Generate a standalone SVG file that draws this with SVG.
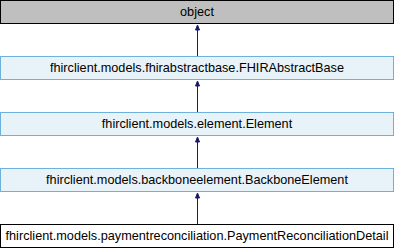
<svg xmlns="http://www.w3.org/2000/svg" width="394" height="248" viewBox="0 0 394 248">
  <style>
    .node text { font-family: "Liberation Sans", Arial, sans-serif; font-size: 12.7px; text-anchor: middle; fill: #000; }
    .root rect { fill: #bfbfbf; stroke: #000; stroke-width: 1; }
    .base rect { fill: #e8f2f9; stroke: #6cb2dc; stroke-width: 1; }
    .leaf rect { fill: #fff; stroke: #000; stroke-width: 1; }
    .edges line { stroke: #191970; stroke-width: 1; }
    .edges polygon { fill: #191970; stroke: #191970; stroke-width: 1; }
  </style>

  <g id="object" class="node root">
    <rect x="0.5" y="0.5" width="393" height="23"/>
    <text x="197" y="16">object</text>
  </g>
  <g id="fhirabstractbase" class="node base">
    <rect x="0.5" y="56.5" width="393" height="23"/>
    <text x="197" y="72">fhirclient.models.fhirabstractbase.FHIRAbstractBase</text>
  </g>
  <g id="element" class="node base">
    <rect x="0.5" y="112.5" width="393" height="23"/>
    <text x="197" y="128">fhirclient.models.element.Element</text>
  </g>
  <g id="backboneelement" class="node base">
    <rect x="0.5" y="168.5" width="393" height="23"/>
    <text x="197" y="184">fhirclient.models.backboneelement.BackboneElement</text>
  </g>
  <g id="paymentreconciliationdetail" class="node leaf">
    <rect x="0.5" y="224.5" width="393" height="23"/>
    <text x="197" y="240">fhirclient.models.paymentreconciliation.PaymentReconciliationDetail</text>
  </g>

  <g class="edges">
    <line x1="197.5" y1="30" x2="197.5" y2="56"/>
    <polygon points="197.5,25 195.5,30 199.5,30"/>
    <line x1="197.5" y1="86" x2="197.5" y2="112"/>
    <polygon points="197.5,81 195.5,86 199.5,86"/>
    <line x1="197.5" y1="142" x2="197.5" y2="168"/>
    <polygon points="197.5,137 195.5,142 199.5,142"/>
    <line x1="197.5" y1="198" x2="197.5" y2="224"/>
    <polygon points="197.5,193 195.5,198 199.5,198"/>
  </g>
</svg>
